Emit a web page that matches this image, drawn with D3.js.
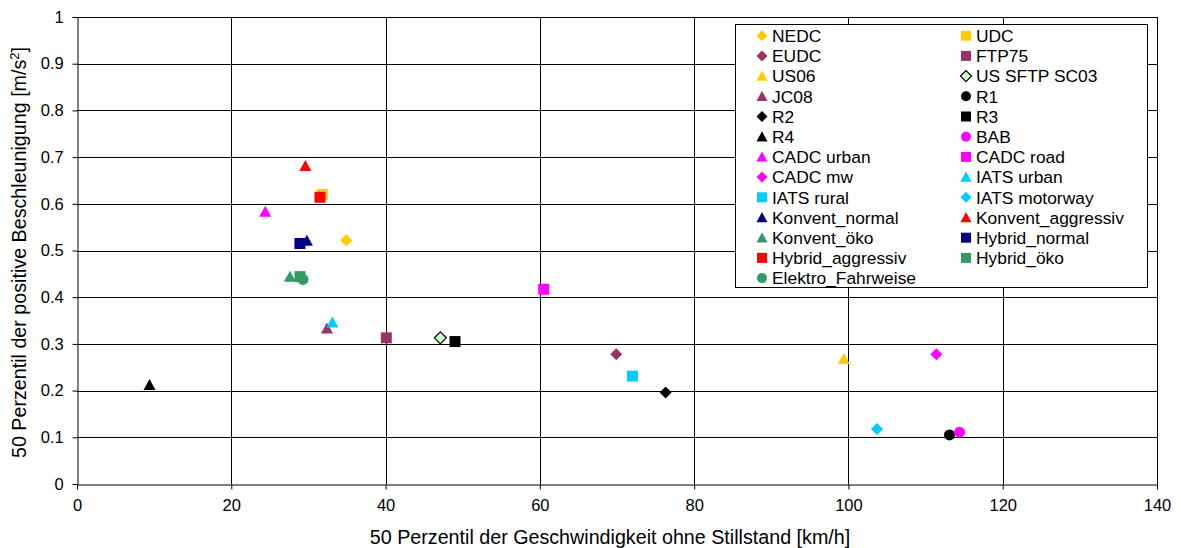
<!DOCTYPE html>
<html><head><meta charset="utf-8">
<script src="https://cdn.jsdelivr.net/npm/d3@7"></script>
<style>body{margin:0;background:#fff}text{font-family:"Liberation Sans",Arial,sans-serif}</style>
</head><body><svg id="c" width="1181" height="548"></svg>
<script>
const seriesNames = ["NEDC","UDC","EUDC","FTP75","US06","US SFTP SC03","JC08","R1","R2","R3","R4","BAB","CADC urban","CADC road","CADC mw","IATS urban","IATS rural","IATS motorway","Konvent_normal","Konvent_aggressiv","Konvent_öko","Hybrid_normal","Hybrid_aggressiv","Hybrid_öko","Elektro_Fahrweise"];
const xValues = [34.9,31.8,69.9,40.1,99.4,47.1,32.4,113.1,76.3,49.0,9.4,114.4,24.4,60.5,111.4,33.1,72.0,103.7,29.8,29.6,27.6,28.9,31.5,28.9,29.3];
const yValues = [0.522,0.620,0.278,0.313,0.268,0.313,0.333,0.105,0.196,0.305,0.212,0.111,0.583,0.417,0.278,0.346,0.231,0.118,0.521,0.681,0.444,0.515,0.614,0.444,0.438];
const seriesShapes = ["diamond","square","diamond","square","triangle","diamond","triangle","circle","diamond","square","triangle","circle","triangle","square","diamond","triangle","square","diamond","triangle","triangle","triangle","square","square","square","circle"];
const seriesColors = ["#FFCC00","#FFCC00","#993366","#993366","#FFCC00","#CCFFCC","#993366","#000000","#000000","#000000","#000000","#FF00FF","#FF00FF","#FF00FF","#FF00FF","#00CCFF","#00CCFF","#00CCFF","#000080","#FF0000","#339966","#000080","#FF0000","#339966","#339966"];
const xTicks = [0,20,40,60,80,100,120,140];
const yTicks = [0,0.1,0.2,0.3,0.4,0.5,0.6,0.7,0.8,0.9,1];
const xTitle = "50 Perzentil der Geschwindigkeit ohne Stillstand [km/h]";
const yTitle = "50 Perzentil der positive Beschleunigung [m/s²]";

const svg = d3.select("#c");
const L=77,R=1157,T=17,B=484;
const x = d3.scaleLinear().domain([0,140]).range([L,R]);
const y = d3.scaleLinear().domain([0,1]).range([B,T]);

// gridlines
svg.append("g").selectAll("line").data(yTicks.filter(d=>d>0)).join("line")
 .attr("x1",L).attr("x2",R).attr("y1",d=>Math.round(y(d))+0.5).attr("y2",d=>Math.round(y(d))+0.5)
 .attr("stroke","#000").attr("stroke-width",1);
svg.append("g").selectAll("line").data(xTicks.filter(d=>d>0)).join("line")
 .attr("y1",T).attr("y2",B).attr("x1",d=>Math.round(x(d))+0.5).attr("x2",d=>Math.round(x(d))+0.5)
 .attr("stroke","#000").attr("stroke-width",1);

const fmt = d=>d3.format("~g")(d);
const xa = svg.append("g").attr("transform",`translate(0,${B+0.5})`)
 .call(d3.axisBottom(x).tickValues(xTicks).tickFormat(fmt).tickSize(5).tickSizeOuter(0));
const ya = svg.append("g").attr("transform",`translate(${L+0.5},0)`)
 .call(d3.axisLeft(y).tickValues(yTicks).tickFormat(fmt).tickSize(5).tickSizeOuter(0));
[xa,ya].forEach(a=>{a.select(".domain").attr("stroke","#000");a.selectAll(".tick line").attr("stroke","#000");
 a.selectAll("text").attr("font-size",16.5).attr("fill","#000").style("font-family","Liberation Sans, Arial, sans-serif");});
xa.selectAll("text").attr("dy","1.15em");
ya.selectAll("text").attr("dx","-0.35em");

svg.append("text").attr("x",(L+R)/2-7).attr("y",544).attr("text-anchor","middle").attr("font-size",19.7).text(xTitle);
const yt = svg.append("text").attr("transform",`translate(26,${(T+B)/2+2}) rotate(-90)`).attr("text-anchor","middle").attr("font-size",19.7);
yt.append("tspan").text(yTitle.replace("²]",""));
yt.append("tspan").attr("font-size",13).attr("dy",-7).text("2");
yt.append("tspan").attr("dy",7).text("]");

function shapePath(s,r){
 if(s==="square") return `M${-r},${-r}h${2*r}v${2*r}h${-2*r}Z`;
 if(s==="diamond") return `M0,${-r}L${r},0L0,${r}L${-r},0Z`;
 if(s==="triangle") return `M0,${-r}L${r},${r*0.85}L${-r},${r*0.85}Z`;
 return d3.arc()({innerRadius:0,outerRadius:r,startAngle:0,endAngle:2*Math.PI});
}
const data = seriesNames.map((n,i)=>({n,x:xValues[i],y:yValues[i],s:seriesShapes[i],c:seriesColors[i]}));
const ptSize = {square:5.5,diamond:6,triangle:6,circle:5.5};
svg.append("g").selectAll("path").data(data).join("path")
 .attr("transform",d=>`translate(${x(d.x)},${y(d.y)})`)
 .attr("d",d=>shapePath(d.s,ptSize[d.s]))
 .attr("fill",d=>d.c)
 .attr("stroke",d=>d.n==="US SFTP SC03"?"#000":"none").attr("stroke-width",1.2);

// legend
const lg = svg.append("g");
lg.append("rect").attr("x",735.5).attr("y",24.5).attr("width",412).attr("height",263).attr("fill","#fff").attr("stroke","#000");
const legSize = {square:5,diamond:5.5,triangle:5.5,circle:5};
data.forEach((d,i)=>{
 const col=i%2,row=Math.floor(i/2);
 const mx = col===0?762:966, my = 35.7+row*20.2;
 lg.append("path").attr("transform",`translate(${mx},${my})`).attr("d",shapePath(d.s,legSize[d.s]))
  .attr("fill",d.c).attr("stroke",d.n==="US SFTP SC03"?"#000":"none").attr("stroke-width",1.2);
 lg.append("text").attr("x",mx+10).attr("y",my+6.3).attr("font-size",17.4).text(d.n);
});
</script></body></html>
